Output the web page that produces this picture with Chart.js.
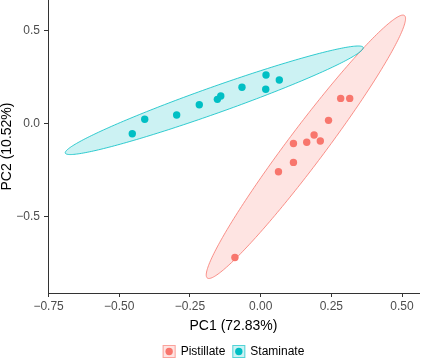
<!DOCTYPE html>
<html><head><meta charset="utf-8">
<script src="https://cdn.jsdelivr.net/npm/chart.js@4"></script>
<style>html,body{margin:0;padding:0;background:#fff}</style>
</head><body>
<canvas id="c" width="421" height="361" style="display:block;width:421px;height:361px"></canvas>
<script>
// ---- data ----
const groups = ['Pistillate', 'Staminate'];
const pistillateX = [-0.091, 0.063, 0.116, 0.116, 0.163, 0.189, 0.211, 0.240, 0.283, 0.315];
const pistillateY = [-0.720, -0.259, -0.209, -0.107, -0.101, -0.062, -0.094, 0.017, 0.135, 0.135];
const staminateX = [-0.454, -0.410, -0.297, -0.217, -0.153, -0.141, -0.066, 0.019, 0.018, 0.066];
const staminateY = [-0.055, 0.023, 0.046, 0.101, 0.130, 0.148, 0.195, 0.261, 0.184, 0.234];
// confidence ellipses (data units): centre, semi-axis vector, conjugate semi-axis vector
const ellipseCX = [0.160, -0.164];
const ellipseCY = [-0.125, 0.125];
const ellipseUX = [0.343, 0.527];
const ellipseUY = [0.708, 0.282];
const ellipseVX = [0.081, 0.0];
const ellipseVY = [0.0, 0.075];
const xTicks = [-0.75, -0.5, -0.25, 0, 0.25, 0.5];
const yTicks = [-0.5, 0, 0.5];
const xTitle = 'PC1 (72.83%)';
const yTitle = 'PC2 (10.52%)';

// ---- styles ----
const FONT = "'Liberation Sans', Arial, sans-serif";
const colors = ['#F8766D', '#00BFC4'];
const fills = ['rgba(248,118,109,0.2)', 'rgba(0,191,196,0.2)'];
const fmt = (v, d) => { const s = Math.abs(v).toFixed(d); return v < 0 ? '\u2212' + s : s; };

const toPts = (xs, ys) => xs.map((v, i) => ({x: v, y: ys[i]}));

const ellipsePlugin = {
  id: 'ellipses',
  beforeDatasetsDraw(chart) {
    const {ctx, scales: {x, y}} = chart;
    ctx.save();
    for (let i = 0; i < groups.length; i++) {
      ctx.beginPath();
      const N = 240;
      for (let k = 0; k <= N; k++) {
        const t = k / N * 2 * Math.PI;
        const dx = ellipseCX[i] + Math.cos(t) * ellipseUX[i] + Math.sin(t) * ellipseVX[i];
        const dy = ellipseCY[i] + Math.cos(t) * ellipseUY[i] + Math.sin(t) * ellipseVY[i];
        const px = x.getPixelForValue(dx), py = y.getPixelForValue(dy);
        if (k === 0) ctx.moveTo(px, py); else ctx.lineTo(px, py);
      }
      ctx.closePath();
      ctx.fillStyle = fills[i];
      ctx.fill();
      ctx.strokeStyle = colors[i];
      ctx.lineWidth = 0.8;
      ctx.stroke();
    }
    ctx.restore();
  }
};

const legendPlugin = {
  id: 'ggLegend',
  afterDraw(chart) {
    const {ctx, chartArea} = chart;
    ctx.save();
    ctx.font = '12px ' + FONT;
    const key = 13, gapKT = 5, gapItems = 7;
    const widths = groups.map(g => ctx.measureText(g).width);
    const total = widths.reduce((a, w) => a + key + gapKT + w, 0) + gapItems * (groups.length - 1);
    let x = (chartArea.left + chartArea.right) / 2 - total / 2;
    const cy = 351.5;
    groups.forEach((g, i) => {
      ctx.fillStyle = fills[i];
      ctx.fillRect(x, cy - key / 2, key, key);
      ctx.strokeStyle = colors[i];
      ctx.globalAlpha = 0.6;
      ctx.lineWidth = 1;
      ctx.strokeRect(x + 0.5, cy - key / 2 + 0.5, key - 1, key - 1);
      ctx.globalAlpha = 1;
      ctx.beginPath();
      ctx.arc(x + key / 2, cy, 3.7, 0, 2 * Math.PI);
      ctx.fillStyle = colors[i];
      ctx.fill();
      ctx.fillStyle = '#000';
      ctx.textBaseline = 'middle';
      ctx.textAlign = 'left';
      ctx.fillText(g, x + key + gapKT, cy + 0.5);
      x += key + gapKT + widths[i] + gapItems;
    });
    ctx.restore();
  }
};

new Chart(document.getElementById('c'), {
  type: 'scatter',
  data: {
    datasets: [
      {label: groups[0], data: toPts(pistillateX, pistillateY), backgroundColor: colors[0], borderWidth: 0, pointRadius: 3.7},
      {label: groups[1], data: toPts(staminateX, staminateY), backgroundColor: colors[1], borderWidth: 0, pointRadius: 3.7}
    ]
  },
  options: {
    responsive: false,
    animation: false,
    devicePixelRatio: 1,
    layout: {autoPadding: false, padding: {left: 0, right: 2, top: 0, bottom: 22}},
    plugins: {legend: {display: false}, tooltip: {enabled: false}},
    scales: {
      x: {
        type: 'linear', position: 'bottom', min: -0.752, max: 0.56,
        afterBuildTicks: s => { s.ticks = xTicks.map(v => ({value: v})); },
        afterFit: s => { s.height = 46; s.paddingLeft = 0; s.paddingRight = 0; },
        ticks: {font: {size: 12, family: FONT}, color: '#4d4d4d', padding: 2, maxRotation: 0, callback: v => fmt(v, 2)},
        grid: {drawOnChartArea: false, drawTicks: true, tickLength: 4, color: '#333', lineWidth: 1},
        border: {display: true, color: '#333', width: 1},
        title: {display: true, text: xTitle, color: '#000', font: {size: 14, family: FONT, lineHeight: 1}, padding: {top: 0, bottom: 6}}
      },
      y: {
        type: 'linear', min: -0.911, max: 0.664,
        afterBuildTicks: s => { s.ticks = yTicks.map(v => ({value: v})); },
        afterFit: s => { s.width = 48; s.paddingTop = 0; s.paddingBottom = 0; },
        ticks: {font: {size: 12, family: FONT}, color: '#4d4d4d', padding: 4, callback: v => fmt(v, 1)},
        grid: {drawOnChartArea: false, drawTicks: true, tickLength: 4, color: '#333', lineWidth: 1},
        border: {display: true, color: '#333', width: 1},
        title: {display: true, text: yTitle, color: '#000', font: {size: 14, family: FONT, lineHeight: 1}, padding: {top: 0, bottom: 0}}
      }
    }
  },
  plugins: [ellipsePlugin, legendPlugin]
});
</script>
</body></html>
